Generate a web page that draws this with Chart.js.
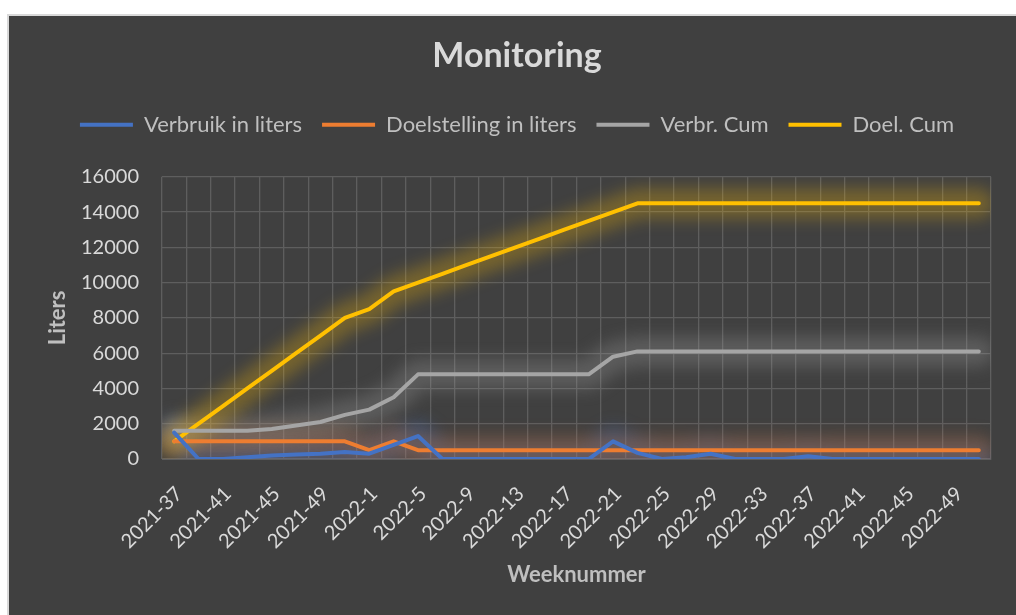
<!DOCTYPE html>
<html>
<head>
<meta charset="utf-8">
<title>Monitoring</title>
<script src="https://cdn.jsdelivr.net/npm/chart.js@4.4.0/dist/chart.umd.min.js"></script>
<style>
  html, body { margin: 0; padding: 0; background: #fff; }
  #frame {
    position: absolute; left: 7px; top: 14px;
    width: 1007px; height: 599px;
    background: #404040;
    border-left: 2px solid #d9d9d9;
    border-top: 2px solid #d9d9d9;
  }
  #frame canvas { display: block; }
</style>
</head>
<body>
<div id="frame"><canvas id="monitoring" width="1007" height="599"></canvas></div>
<script>
// weeks (every other week is on the axis)
var weeks = ['2021-37','2021-39','2021-41','2021-43','2021-45','2021-47','2021-49','2021-51',
             '2022-1','2022-3','2022-5','2022-7','2022-9','2022-11','2022-13','2022-15',
             '2022-17','2022-19','2022-21','2022-23','2022-25','2022-27','2022-29','2022-31',
             '2022-33','2022-35','2022-37','2022-39','2022-41','2022-43','2022-45','2022-47',
             '2022-49','2022-51'];

var verbruik    = [1500, 0, 0, 100, 200, 250, 300, 400, 300, 800, 1300, 0, 0, 0, 0, 0,
                   0, 0, 1000, 350, 0, 100, 300, 0, 0, 0, 150, 0, 0, 0, 0, 0, 0, 0];
var doelstelling = [1000, 1000, 1000, 1000, 1000, 1000, 1000, 1000, 500, 1000, 500, 500, 500, 500, 500, 500,
                   500, 500, 500, 500, 500, 500, 500, 500, 500, 500, 500, 500, 500, 500, 500, 500, 500, 500];
var verbrCum    = [1600, 1600, 1600, 1600, 1700, 1900, 2100, 2500, 2800, 3500, 4800, 4800, 4800, 4800, 4800, 4800,
                   4800, 4800, 5800, 6100, 6100, 6100, 6100, 6100, 6100, 6100, 6100, 6100, 6100, 6100, 6100, 6100, 6100, 6100];
var doelCum     = [1000, 2000, 3000, 4000, 5000, 6000, 7000, 8000, 8500, 9500, 10000, 10500, 11000, 11500, 12000, 12500,
                   13000, 13500, 14000, 14500, 14500, 14500, 14500, 14500, 14500, 14500, 14500, 14500, 14500, 14500, 14500, 14500, 14500, 14500];

var yTicks = [0, 2000, 4000, 6000, 8000, 10000, 12000, 14000, 16000];

Chart.defaults.font.family = 'Lato, "Noto Sans", sans-serif';

// soft halo behind each line, like the glow effect in the original
var glow = {
    id: 'glow',
    beforeLayout: function(chart){
        var lg = chart.legend;
        if (lg && !lg._tall){
            var f = lg.fit;
            lg.fit = function(){ f.call(this); this.height += 31; };
            lg._tall = true;
        }
    },
    beforeDatasetsDraw: function(chart){
        var ctx = chart.ctx, a = chart.chartArea;
        ctx.save();
        ctx.beginPath();
        ctx.rect(a.left, a.top, a.right - a.left, a.bottom - a.top);
        ctx.clip();
        ctx.filter = 'blur(8px)';
        ctx.lineJoin = 'round';
        ctx.lineCap = 'round';
        chart.data.datasets.forEach(function(ds, i){
            var pts = chart.getDatasetMeta(i).data;
            ctx.beginPath();
            pts.forEach(function(p, j){
                if (j == 0) ctx.moveTo(p.x, p.y); else ctx.lineTo(p.x, p.y);
            });
            ctx.lineWidth = 30;
            ctx.strokeStyle = ds.glowColor;
            ctx.stroke();
        });
        ctx.restore();
    }
};

function line(label, data, color, glowColor){
    return {
        label: label,
        data: data,
        borderColor: color,
        backgroundColor: color,
        glowColor: glowColor,
        borderWidth: 4,
        borderCapStyle: 'round',
        borderJoinStyle: 'round',
        pointRadius: 0,
        tension: 0
    };
}

var ctx = document.getElementById('monitoring');
var chart = new Chart(ctx, {
    type: 'line',
    data: {
        labels: weeks,
        datasets: [
            line('Verbruik in liters', verbruik, '#4472C4', 'rgba(68,114,196,0.32)'),
            line('Doelstelling in liters', doelstelling, '#ED7D31', 'rgba(237,125,49,0.25)'),
            line('Verbr. Cum', verbrCum, '#A5A5A5', 'rgba(165,165,165,0.28)'),
            line('Doel. Cum', doelCum, '#FFC000', 'rgba(255,192,0,0.28)')
        ]
    },
    options: {
        responsive: false,
        animation: false,
        layout: { padding: { top: 4, left: 34, right: 25, bottom: 20 } },
        plugins: {
            title: {
                display: true,
                text: 'Monitoring',
                color: '#d9d9d9',
                font: { size: 34, weight: 'bold' },
                padding: { top: 16, bottom: 17 }
            },
            legend: {
                labels: {
                    usePointStyle: true,
                    pointStyle: 'line',
                    pointStyleWidth: 53,
                    color: '#bfbfbf',
                    font: { size: 22 },
                    padding: 20
                }
            },
            tooltip: { enabled: false }
        },
        scales: {
            x: {
                offset: true,
                grid: { offset: true, color: '#5e5e5e', lineWidth: 1.3, drawTicks: false },
                border: { color: '#5e5e5e' },
                ticks: {
                    autoSkip: false,
                    maxRotation: 45,
                    minRotation: 45,
                    color: '#d9d9d9',
                    font: { size: 20 },
                    padding: 23,
                    labelOffset: 5,
                    callback: function(v, i){ return i % 2 == 0 ? this.getLabelForValue(v) : ''; }
                },
                title: {
                    display: true,
                    text: 'Weeknummer',
                    color: '#bfbfbf',
                    font: { size: 22, weight: 'bold' },
                    padding: { top: 0, bottom: 7 }
                },
                afterFit: function(s){
                    s.height = 136;
                    s.paddingLeft = 0;
                    s.paddingRight = 0;
                }
            },
            y: {
                min: yTicks[0],
                max: yTicks[yTicks.length - 1],
                afterBuildTicks: function(s){ s.ticks = yTicks.map(function(v){ return { value: v }; }); },
                grid: { color: '#5e5e5e', lineWidth: 1.3, drawTicks: false },
                border: { display: false },
                ticks: {
                    color: '#d9d9d9',
                    font: { size: 20 },
                    padding: 23,
                    callback: function(v){ return String(v); }
                },
                title: {
                    display: true,
                    text: 'Liters',
                    color: '#bfbfbf',
                    font: { size: 22, weight: 'bold' },
                    padding: { top: 2, bottom: 0 }
                },
                afterFit: function(s){ s.width = 119; }
            }
        }
    },
    plugins: [glow]
});
</script>
</body>
</html>
